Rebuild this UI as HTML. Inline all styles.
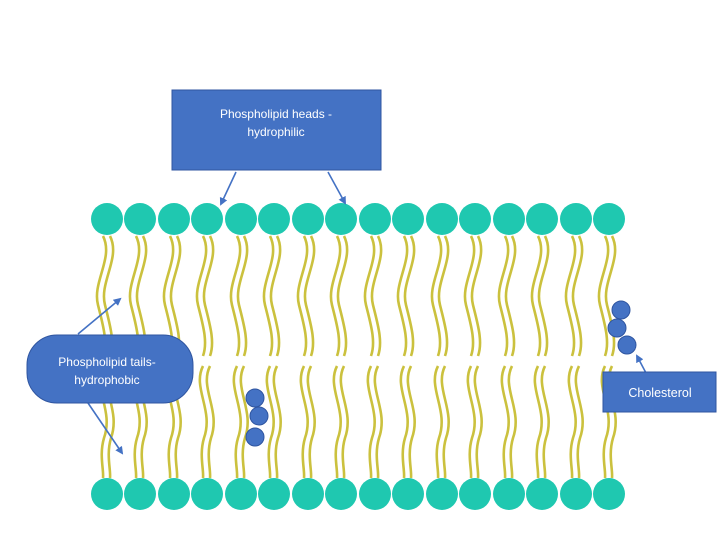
<!DOCTYPE html>
<html><head><meta charset="utf-8"><style>
html,body{margin:0;padding:0;background:#fff;}
svg{display:block}
text{font-family:"Liberation Sans",sans-serif;fill:#fff}
</style></head><body>
<svg width="720" height="538" viewBox="0 0 720 538" xmlns="http://www.w3.org/2000/svg">
<defs>
<g id="tt" fill="none" stroke="#cbc13e" stroke-width="2.6">
<path d="M-7,236 C4,258 -18,282 -12,305 C-7,325 -2,342 -7,356"/>
<path d="M0,236 C11,258 -11,282 -5,305 C0,325 5,342 0,356"/>
</g>
<g id="bt" fill="none" stroke="#cbc13e" stroke-width="2.6">
<path d="M-7,366 C-18,388 4,410 -6,438 C-11,455 -6,470 -7,478"/>
<path d="M0,366 C-11,388 11,410 1,438 C-4,455 1,470 0,478"/>
</g>
<marker id="ah" markerWidth="8" markerHeight="8" refX="6" refY="4" orient="auto" markerUnits="userSpaceOnUse"><path d="M0,0 L8,4 L0,8 z" fill="#4472c4"/></marker>
</defs>
<g id="tails">
<use href="#tt" x="110"/><use href="#tt" x="143"/><use href="#tt" x="177"/><use href="#tt" x="210"/><use href="#tt" x="244"/><use href="#tt" x="277"/><use href="#tt" x="311"/><use href="#tt" x="344"/><use href="#tt" x="378"/><use href="#tt" x="411"/><use href="#tt" x="445"/><use href="#tt" x="478"/><use href="#tt" x="512"/><use href="#tt" x="545"/><use href="#tt" x="579"/><use href="#tt" x="612"/>
<use href="#bt" x="110"/><use href="#bt" x="143"/><use href="#bt" x="177"/><use href="#bt" x="210"/><use href="#bt" x="244"/><use href="#bt" x="277"/><use href="#bt" x="311"/><use href="#bt" x="344"/><use href="#bt" x="378"/><use href="#bt" x="411"/><use href="#bt" x="445"/><use href="#bt" x="478"/><use href="#bt" x="512"/><use href="#bt" x="545"/><use href="#bt" x="579"/><use href="#bt" x="612"/>
</g>
<g fill="#1fc8b0">
<circle cx="107" cy="219" r="16"/><circle cx="140" cy="219" r="16"/><circle cx="174" cy="219" r="16"/><circle cx="207" cy="219" r="16"/><circle cx="241" cy="219" r="16"/><circle cx="274" cy="219" r="16"/><circle cx="308" cy="219" r="16"/><circle cx="341" cy="219" r="16"/><circle cx="375" cy="219" r="16"/><circle cx="408" cy="219" r="16"/><circle cx="442" cy="219" r="16"/><circle cx="475" cy="219" r="16"/><circle cx="509" cy="219" r="16"/><circle cx="542" cy="219" r="16"/><circle cx="576" cy="219" r="16"/><circle cx="609" cy="219" r="16"/>
<circle cx="107" cy="494" r="16"/><circle cx="140" cy="494" r="16"/><circle cx="174" cy="494" r="16"/><circle cx="207" cy="494" r="16"/><circle cx="241" cy="494" r="16"/><circle cx="274" cy="494" r="16"/><circle cx="308" cy="494" r="16"/><circle cx="341" cy="494" r="16"/><circle cx="375" cy="494" r="16"/><circle cx="408" cy="494" r="16"/><circle cx="442" cy="494" r="16"/><circle cx="475" cy="494" r="16"/><circle cx="509" cy="494" r="16"/><circle cx="542" cy="494" r="16"/><circle cx="576" cy="494" r="16"/><circle cx="609" cy="494" r="16"/>
</g>
<g fill="#4472c4" stroke="#2f55a0" stroke-width="1">
<circle cx="621" cy="310" r="9"/><circle cx="617" cy="328" r="9"/><circle cx="627" cy="345" r="9"/>
<circle cx="255" cy="398" r="9"/><circle cx="259" cy="416" r="9"/><circle cx="255" cy="437" r="9"/>
</g>
<g stroke="#4472c4" stroke-width="1.6" marker-end="url(#ah)">
<line x1="236" y1="172" x2="221" y2="204"/>
<line x1="328" y1="172" x2="345" y2="203"/>
<line x1="78" y1="334" x2="120" y2="299"/>
<line x1="88" y1="403" x2="122" y2="453"/>
<line x1="646" y1="373" x2="637" y2="356"/>
</g>
<rect x="172" y="90" width="209" height="80" fill="#4472c4" stroke="#2f55a0"/>
<text x="276" y="118" font-size="12" text-anchor="middle">Phospholipid heads -</text>
<text x="276" y="136" font-size="12" text-anchor="middle">hydrophilic</text>
<rect x="27" y="335" width="166" height="68" rx="30" fill="#4472c4" stroke="#2f55a0"/>
<text x="107" y="366" font-size="12" text-anchor="middle">Phospholipid tails-</text>
<text x="107" y="384" font-size="12" text-anchor="middle">hydrophobic</text>
<rect x="603" y="372" width="113" height="40" fill="#4472c4" stroke="#2f55a0"/>
<text x="660" y="397" font-size="12.5" text-anchor="middle">Cholesterol</text>
</svg>
</body></html>
